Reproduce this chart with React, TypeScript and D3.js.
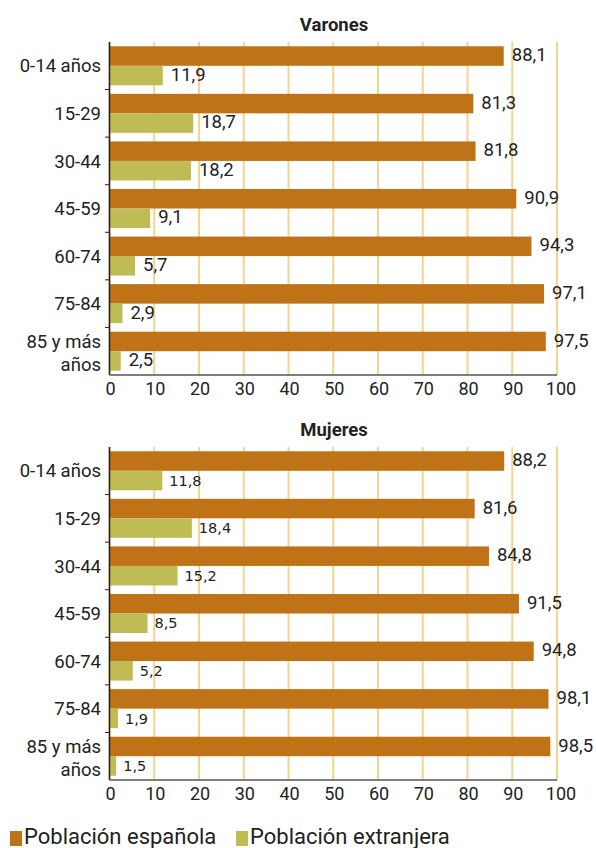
import React from 'react';
import * as d3 from 'd3';

const categories = ['0-14 años', '15-29', '30-44', '45-59', '60-74', '75-84', '85 y más años'];
const varonesEspanola = [88.1, 81.3, 81.8, 90.9, 94.3, 97.1, 97.5];
const varonesExtranjera = [11.9, 18.7, 18.2, 9.1, 5.7, 2.9, 2.5];
const mujeresEspanola = [88.2, 81.6, 84.8, 91.5, 94.8, 98.1, 98.5];
const mujeresExtranjera = [11.8, 18.4, 15.2, 8.5, 5.2, 1.9, 1.5];
const xTicks = [0, 10, 20, 30, 40, 50, 60, 70, 80, 90, 100];
const seriesNames = ['Población española', 'Población extranjera'];

const ORANGE = '#c07316';
const GREEN = '#bfbb55';
const GRID = '#f2d591';
const FONT = 'Roboto, "Liberation Sans", Arial, sans-serif';

const fmt = (v: number) => v.toFixed(1).replace('.', ',');

const x = d3.scaleLinear().domain([0, 100]).range([109.5, 557]);

function Panel({ title, top, espanola, extranjera, smallGreen }: {
  title: string; top: number; espanola: number[]; extranjera: number[]; smallGreen?: boolean;
}) {
  const plotTop = top + 20;
  const plotBottom = plotTop + 333;
  const y = d3.scaleBand().domain(categories).range([plotTop, plotBottom]).paddingInner(0.18).paddingOuter(0.09);
  const bh = y.bandwidth() / 2;
  const step = y.step();
  return (
    <g>
      <text x={334} y={top + 8.5} textAnchor="middle" fontWeight="bold" fontSize={18.5} fill="#222">{title}</text>
      {xTicks.map(t => (
        <line key={t} x1={x(t)} x2={x(t)} y1={plotTop} y2={plotBottom} stroke={GRID} strokeWidth={2} />
      ))}
      {categories.map((c, i) => {
        const y0 = y(c)!;
        return (
          <g key={c}>
            <rect x={x(0)} y={y0} width={x(espanola[i]) - x(0)} height={bh} fill={ORANGE} />
            <rect x={x(0)} y={y0 + bh} width={x(extranjera[i]) - x(0)} height={bh} fill={GREEN} />
            <text x={x(espanola[i]) + 8} y={y0 + bh / 2 - 1.5} dy="0.36em" fontSize={18.5} fill="#222">{fmt(espanola[i])}</text>
            <text x={x(extranjera[i]) + (smallGreen ? 7 : 8)} y={y0 + bh * 1.5 - (smallGreen ? 0 : 1.5)} dy="0.36em" fontSize={smallGreen ? 14.5 : 18.5}
              fontFamily={smallGreen ? '"DejaVu Sans", sans-serif' : FONT} fill="#222">{fmt(extranjera[i])}</text>
            {c === '85 y más años' ? (
              <text x={101} y={y0 + bh} textAnchor="end" fontSize={18.5} fill="#222">
                <tspan x={101} dy="-0.15em">85 y más</tspan>
                <tspan x={101} dy="1.2em">años</tspan>
              </text>
            ) : (
              <text x={101} y={y0 + bh} dy="0.36em" textAnchor="end" fontSize={18.5} fill="#222">{c}</text>
            )}
          </g>
        );
      })}
      {categories.slice(1).map(c => {
        const yy = y(c)! - (step - y.bandwidth()) / 2;
        return <line key={c} x1={105} x2={109.5} y1={yy} y2={yy} stroke="#222" strokeWidth={1} />;
      })}
      <line x1={x(0)} x2={x(0)} y1={plotTop} y2={plotBottom} stroke="#222" strokeWidth={1.5} />
      <line x1={x(0)} x2={x(100)} y1={plotBottom} y2={plotBottom} stroke="#555" strokeWidth={1.5} />
      {xTicks.map(t => (
        <text key={t} x={x(t) + (t === 100 ? 4 : 1)} y={plotBottom + 14} dy="0.36em" textAnchor="middle" fontSize={18} fill="#222">{t}</text>
      ))}
    </g>
  );
}

export default function App() {
  return (
    <svg width={596} height={848} style={{ position: 'absolute', left: 0, top: 0, background: '#fff' }} fontFamily={FONT}>
      <Panel title="Varones" top={22} espanola={varonesEspanola} extranjera={varonesExtranjera} />
      <Panel title="Mujeres" top={427} espanola={mujeresEspanola} extranjera={mujeresExtranjera} smallGreen />
      {seriesNames.map((s, i) => {
        const lx = i === 0 ? 10 : 236;
        return (
          <g key={s}>
            <rect x={lx} y={831} width={12} height={15} fill={i === 0 ? ORANGE : GREEN} />
            <text x={lx + 14} y={844} fontSize={22} fill="#222">{s}</text>
          </g>
        );
      })}
    </svg>
  );
}
